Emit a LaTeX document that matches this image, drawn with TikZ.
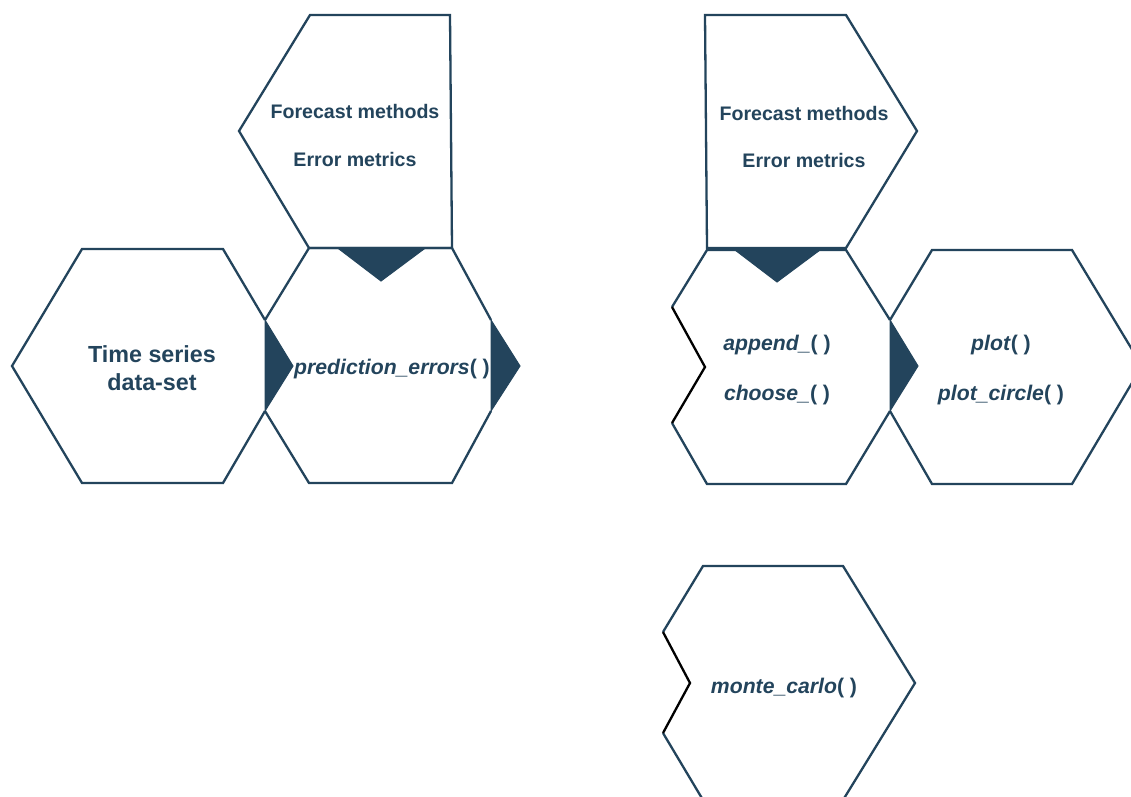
\documentclass[tikz,border=0pt]{standalone}
\usepackage{fontspec}
\setmainfont{Liberation Sans}
\definecolor{hexblue}{RGB}{35,68,92}
\tikzset{
  hexline/.style={draw=hexblue, line width=2.3pt, line join=miter},
  notch/.style={draw=black, line width=2.3pt},
  arrowfill/.style={fill=hexblue, draw=hexblue, line width=1pt, line join=miter},
  lbl/.style={inner sep=0pt, anchor=base, text=hexblue, font=\fontsize{19.6}{23}\selectfont\bfseries},
  fnlbl/.style={inner sep=0pt, anchor=base, text=hexblue, font=\fontsize{21.2}{25}\selectfont\bfseries},
  biglbl/.style={inner sep=0pt, anchor=base, text=hexblue, font=\fontsize{23.3}{28}\selectfont\bfseries}
}
\begin{document}
\begin{tikzpicture}[x=1pt,y=-1pt]
\useasboundingbox (0,0) rectangle (1131,796);
\clip (0,0) rectangle (1131,796);
\fill[white] (0,0) rectangle (1131,796);

% ---------- left group ----------
% Forecast pentagon (left)
\draw[hexline] (310,15) -- (450,15) -- (452,248) -- (309,248) -- (239,131) -- cycle;
\draw[arrowfill] (339,249) -- (424,249) -- (381,281) -- cycle;
\node[lbl] (fm1) at (355,118) {Forecast methods};
\node[lbl] (em1) at (355,166) {Error metrics};

% Time series hexagon
\draw[hexline] (265,320) -- (223,249) -- (82,249) -- (12,366) -- (82,483) -- (223,483) -- (265,411);
\draw[arrowfill] (265,320) -- (293,366) -- (265,411) -- cycle;
\node[biglbl] (ts1) at (152,362) {Time series};
\node[biglbl] (ts2) at (152,390) {data-set};

% prediction_errors hexagon
\draw[hexline] (265,320) -- (309,248) -- (452,248) -- (491,320);
\draw[hexline] (491,411) -- (452,483) -- (309,483) -- (265,411);
\draw[arrowfill] (491,320) -- (520,366) -- (491,411) -- cycle;
\node[fnlbl] (pe) at (392,374) {\textit{prediction\_errors}( )};

% ---------- right group ----------
% Forecast pentagon (right)
\draw[hexline] (705,15) -- (846,15) -- (917,131) -- (846,248) -- (707,248) -- cycle;
\draw[arrowfill] (735,250) -- (820,250) -- (777,282) -- cycle;
\node[lbl] (fm2) at (804,120) {Forecast methods};
\node[lbl] (em2) at (804,167) {Error metrics};

% append / choose hexagon
\draw[hexline] (672,307) -- (707,250) -- (846,250) -- (890,320);
\draw[hexline] (890,411) -- (846,484) -- (707,484) -- (672,423);
\draw[notch] (672,423) -- (705,367) -- (672,307);
\draw[arrowfill] (890,320) -- (918,366) -- (890,411) -- cycle;
\node[fnlbl] (ap) at (777,350) {\textit{append\_}( )};
\node[fnlbl] (ch) at (777,400) {\textit{choose\_}( )};

% plot hexagon
\draw[hexline] (890,320) -- (932,250) -- (1072,250) -- (1142,366) -- (1072,484) -- (932,484) -- (890,411);
\node[fnlbl] (pl) at (1001,350) {\textit{plot}( )};
\node[fnlbl] (pc) at (1001,400) {\textit{plot\_circle}( )};

% monte_carlo hexagon
\draw[hexline] (663,632) -- (703,566) -- (843,566) -- (915,683) -- (843,800) -- (703,800) -- (663,733);
\draw[notch] (663,733) -- (690,683) -- (663,632);
\node[fnlbl] (mc) at (784,693) {\textit{monte\_carlo}( )};
\end{tikzpicture}
\end{document}
